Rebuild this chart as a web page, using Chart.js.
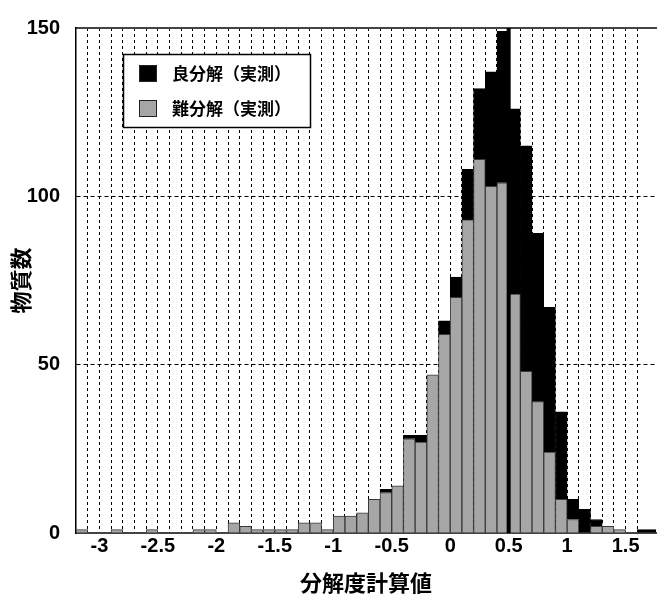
<!DOCTYPE html>
<html>
<head>
<meta charset="utf-8">
<title>分解度計算値 ヒストグラム</title>
<script src="https://cdn.jsdelivr.net/npm/chart.js@4.4.1/dist/chart.umd.min.js"></script>
<style>
  html, body { margin: 0; padding: 0; background: #fff; }
  #wrap { width: 657px; height: 594px; }
</style>
</head>
<body>
<div id="wrap"><canvas id="chart" width="657" height="594"></canvas></div>
<script>
// Histogram bins (centre of each 0.1-wide bin)
const binCenters = [
  -3.15, -3.05, -2.95, -2.85, -2.75, -2.65, -2.55, -2.45, -2.35, -2.25,
  -2.15, -2.05, -1.95, -1.85, -1.75, -1.65, -1.55, -1.45, -1.35, -1.25,
  -1.15, -1.05, -0.95, -0.85, -0.75, -0.65, -0.55, -0.45, -0.35, -0.25,
  -0.15, -0.05,  0.05,  0.15,  0.25,  0.35,  0.45,  0.55,  0.65,  0.75,
   0.85,  0.95,  1.05,  1.15,  1.25,  1.35,  1.45,  1.55,  1.65,  1.75
];

// 難分解（実測） - grey, bottom of the stack
const hardCounts = [
   1,   0,   0,   1,   0,   0,   1,   0,   0,   0,
   1,   1,   0,   3,   2,   1,   1,   1,   1,   3,
   3,   1,   5,   5,   6,  10,  12,  14,  28,  27,
  47,  59,  70,  93, 111, 103, 104,  71,  48,  39,
  24,  10,   4,   0,   2,   2,   1,   0,   0,   0
];

// 良分解（実測） - black, stacked on top
const goodCounts = [
   0,   0,   0,   0,   0,   0,   0,   0,   0,   0,
   0,   0,   0,   0,   0,   0,   0,   0,   0,   0,
   0,   0,   0,   0,   0,   0,   1,   0,   1,   2,
   0,   4,   6,  15,  21,  34,  45,  55,  67,  50,
  43,  26,   6,   7,   2,   0,   0,   0,   1,   1
];

// Reference line at 0.5
const refLineX = [0.5, 0.5];
const refLineY = [0, 150];

// Axis settings
const xMin = -3.2;
const xMax = 1.76;
const yTicks = [0, 50, 100, 150];

const seriesLabels = ['良分解（実測）', '難分解（実測）'];
const seriesColors = ['#000000', '#a6a6a6'];

const numFont = "'Liberation Sans', Arial, sans-serif";
const jpFont = "'Noto Sans CJK JP', sans-serif";

const toPoints = (xs, ys) => xs.map((x, i) => ({ x: x, y: ys[i] }));

// Legend drawn as a boxed key inside the plot (top-left)
const boxLegend = {
  id: 'boxLegend',
  afterDraw(chart) {
    const ctx = chart.ctx;
    ctx.save();
    ctx.fillStyle = '#fff';
    ctx.fillRect(123, 54, 188, 74);
    ctx.strokeStyle = '#000';
    ctx.lineWidth = 1.5;
    ctx.strokeRect(123.5, 54.5, 187, 73);
    ctx.font = "bold 17px " + jpFont;
    ctx.textBaseline = 'middle';
    seriesLabels.forEach((label, i) => {
      const y = 65 + i * 35;
      ctx.fillStyle = seriesColors[i];
      ctx.fillRect(139, y, 18, 17);
      ctx.strokeStyle = '#222';
      ctx.lineWidth = 1;
      ctx.strokeRect(139.5, y + 0.5, 17, 16);
      ctx.fillStyle = '#000';
      ctx.fillText(label, 172, y + 9);
    });
    ctx.restore();
  }
};

// vertical grid: one dashed line per 0.1 bin edge, none on the frame edges
const xGridColor = c => {
  if (!c.tick) return 'transparent';
  const t = Math.round(c.tick.value * 10);
  return (t > -32 && t <= 17 && Math.abs(c.tick.value * 10 - t) < 0.01) ? '#000' : 'transparent';
};
const yGridColor = c => {
  if (!c.tick) return 'transparent';
  return (c.tick.value > 0 && c.tick.value < 150) ? '#000' : 'transparent';
};

new Chart(document.getElementById('chart'), {
  type: 'bar',
  data: {
    datasets: [
      {
        label: seriesLabels[1],
        data: toPoints(binCenters, hardCounts),
        backgroundColor: seriesColors[1],
        borderColor: '#3a3a3a',
        borderWidth: 1,
        stack: 'hist',
        barPercentage: 1,
        categoryPercentage: 1
      },
      {
        label: seriesLabels[0],
        data: toPoints(binCenters, goodCounts),
        backgroundColor: seriesColors[0],
        borderColor: '#000',
        borderWidth: 1,
        stack: 'hist',
        barPercentage: 1,
        categoryPercentage: 1
      },
      {
        type: 'line',
        label: 'ref',
        data: toPoints(refLineX, refLineY),
        borderColor: '#000',
        borderWidth: 4,
        pointRadius: 0,
        stack: 'ref',
        order: -1
      }
    ]
  },
  options: {
    responsive: false,
    animation: false,
    events: [],
    layout: { padding: { top: 22, right: 0, left: 0, bottom: 0 } },
    plugins: {
      legend: { display: false },
      tooltip: { enabled: false }
    },
    scales: {
      x: {
        type: 'linear',
        min: xMin,
        max: xMax,
        offset: false,
        stacked: true,
        afterFit: s => { s.height = 61; },
        grid: { offset: false, drawTicks: false, lineWidth: 1, color: xGridColor },
        border: { display: true, color: '#444', width: 2, dash: [3, 3] },
        ticks: {
          stepSize: 0.1,
          autoSkip: false,
          maxRotation: 0,
          padding: 1,
          color: '#000',
          font: { family: numFont, size: 20, weight: 'bold' },
          callback: v => {
            const t = Math.round(v * 10);
            return (t % 5 === 0 && Math.abs(v * 10 - t) < 0.01) ? String(t / 10) : '';
          }
        },
        title: {
          display: true,
          text: '分解度計算値',
          color: '#000',
          padding: 0,
          font: { family: jpFont, size: 22, weight: 'bold', lineHeight: 1 }
        }
      },
      xTop: {
        type: 'linear',
        position: 'top',
        min: xMin,
        max: xMax,
        offset: false,
        afterFit: s => { s.height = 0; },
        grid: { display: false, drawTicks: false },
        ticks: { display: false },
        border: { display: true, color: '#444', width: 2 }
      },
      y: {
        stacked: true,
        min: 0,
        max: 150,
        afterFit: s => { s.width = 76; },
        afterBuildTicks: s => { s.ticks = yTicks.map(v => ({ value: v })); },
        grid: { drawTicks: false, lineWidth: 1, color: yGridColor },
        border: { display: true, color: '#000', width: 1.5, dash: [4, 3] },
        ticks: {
          padding: 16,
          color: '#000',
          font: { family: numFont, size: 20, weight: 'bold' }
        },
        title: {
          display: true,
          text: '物質数',
          color: '#000',
          padding: { top: 10, bottom: 0 },
          font: { family: jpFont, size: 22, weight: 'bold', lineHeight: 1 }
        }
      }
    }
  },
  plugins: [boxLegend]
});
</script>
</body>
</html>
